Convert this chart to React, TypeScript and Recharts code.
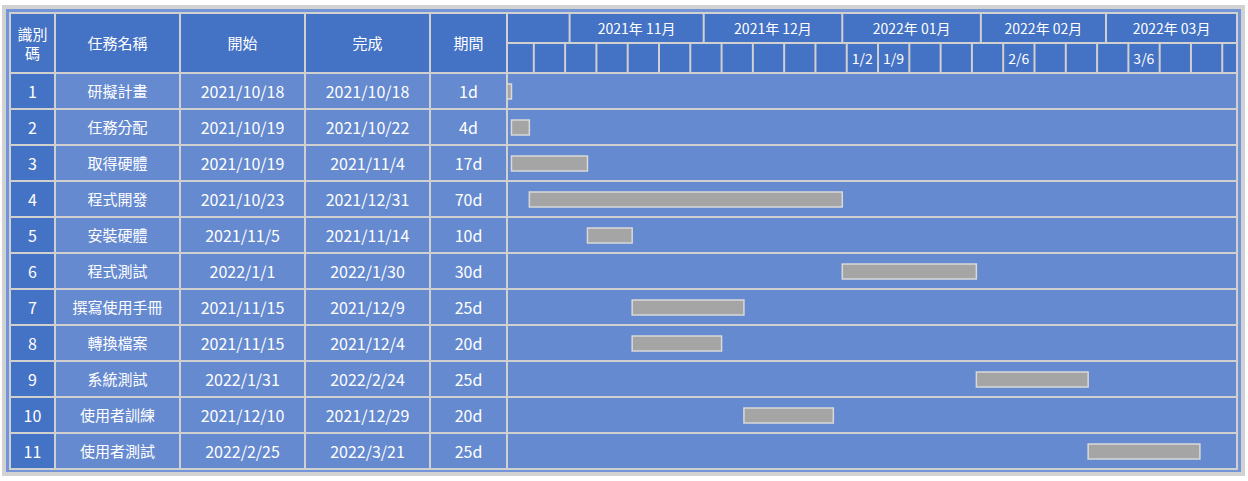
import React from "react";
import { BarChart, Bar, XAxis, YAxis } from "recharts";

const ids = [1, 2, 3, 4, 5, 6, 7, 8, 9, 10, 11];
const taskNames = ["研擬計畫", "任務分配", "取得硬體", "程式開發", "安裝硬體", "程式測試", "撰寫使用手冊", "轉換檔案", "系統測試", "使用者訓練", "使用者測試"];
const startDates = ["2021/10/18", "2021/10/19", "2021/10/19", "2021/10/23", "2021/11/5", "2022/1/1", "2021/11/15", "2021/11/15", "2022/1/31", "2021/12/10", "2022/2/25"];
const endDates = ["2021/10/18", "2021/10/22", "2021/11/4", "2021/12/31", "2021/11/14", "2022/1/30", "2021/12/9", "2021/12/4", "2022/2/24", "2021/12/29", "2022/3/21"];
const durations = ["1d", "4d", "17d", "70d", "10d", "30d", "25d", "20d", "25d", "20d", "25d"];

const headers = ["識別碼", "任務名稱", "開始", "完成", "期間"];

const monthLabels = ["2021年 11月", "2021年 12月", "2022年 01月", "2022年 02月", "2022年 03月"];
const monthStarts = ["2021/11/1", "2021/12/1", "2022/1/1", "2022/2/1", "2022/3/1"];
const weekStarts = [
  "2021/10/24", "2021/10/31", "2021/11/7", "2021/11/14", "2021/11/21", "2021/11/28",
  "2021/12/5", "2021/12/12", "2021/12/19", "2021/12/26", "2022/1/2", "2022/1/9",
  "2022/1/16", "2022/1/23", "2022/1/30", "2022/2/6", "2022/2/13", "2022/2/20",
  "2022/2/27", "2022/3/6", "2022/3/13", "2022/3/20", "2022/3/27",
];
const weekLabels = ["", "", "", "", "", "", "", "", "", "", "1/2", "1/9", "", "", "", "2/6", "", "", "", "3/6", "", "", ""];

const chartStart = "2021/10/18";
const visibleDays = 163.3;

const HEAD_BLUE = "#4472c4";
const BODY_BLUE = "#668acf";
const LINE = "#d0d0d0";
const FONT = '"Noto Sans CJK TC", "Noto Sans", sans-serif';

const dayOf = (s: string) => {
  const [y, m, d] = s.split("/").map(Number);
  const [y0, m0, d0] = chartStart.split("/").map(Number);
  return Math.round((Date.UTC(y, m - 1, d) - Date.UTC(y0, m0 - 1, d0)) / 86400000);
};

const data = ids.map((id, i) => ({
  id,
  range: [dayOf(startDates[i]), dayOf(endDates[i]) + 1],
}));

const monthBounds = monthStarts.map(dayOf);
const monthMids = monthBounds.map((b, i) => (b + (i + 1 < monthBounds.length ? monthBounds[i + 1] : visibleDays)) / 2);
const weekTicks = weekStarts.map(dayOf);

const near = (a: number, b: number) => Math.abs(a - b) < 1e-6;

const MonthTick = (props: any) => {
  const { x, payload } = props;
  const v = payload.value;
  if (monthBounds.some((b) => near(b, v))) {
    return <line x1={x} x2={x} y1={0} y2={30} stroke={LINE} strokeWidth={2} />;
  }
  const li = monthMids.findIndex((m) => near(m, v));
  return (
    <text x={x} y={15} textAnchor="middle" dominantBaseline="central" fill="#fff" fontSize={14} fontFamily={FONT}>
      {monthLabels[li]}
    </text>
  );
};

const WeekTick = (props: any) => {
  const { x, payload } = props;
  const wi = weekTicks.findIndex((w) => near(w, payload.value));
  return (
    <g>
      <line x1={x} x2={x} y1={30} y2={60} stroke={LINE} strokeWidth={2} />
      {weekLabels[wi] ? (
        <text x={x + 5} y={45} dominantBaseline="central" fill="#fff" fontSize={14} fontFamily={FONT}>
          {weekLabels[wi]}
        </text>
      ) : null}
    </g>
  );
};

const colX = [10, 55, 180, 305, 430, 507, 1237];
const HEAD_TOP = 13;
const HEAD_BOTTOM = 73;
const ROW_H = 36;

const cellStyle = (left: number, top: number, width: number, height: number, bg: string, size = 15): React.CSSProperties => ({
  position: "absolute",
  left: left + 1,
  top: top + 1,
  width: width - 2,
  height: height - 2,
  background: bg,
  color: "#fff",
  fontFamily: FONT,
  fontSize: size,
  display: "flex",
  alignItems: "center",
  justifyContent: "center",
  textAlign: "center",
  lineHeight: 1.3,
  boxSizing: "border-box",
  padding: "0 6px",
});

export default function App() {
  const cells: React.ReactNode[] = [];
  headers.forEach((h, c) => {
    cells.push(
      <div key={"h" + c} style={cellStyle(colX[c], HEAD_TOP, colX[c + 1] - colX[c], HEAD_BOTTOM - HEAD_TOP, HEAD_BLUE)}>
        {h}
      </div>
    );
  });
  cells.push(<div key="hm" style={cellStyle(colX[5], HEAD_TOP, colX[6] - colX[5], 30, HEAD_BLUE)} />);
  cells.push(<div key="hw" style={cellStyle(colX[5], HEAD_TOP + 30, colX[6] - colX[5], 30, HEAD_BLUE)} />);
  ids.forEach((id, r) => {
    const top = HEAD_BOTTOM + r * ROW_H;
    const vals = [String(id), taskNames[r], startDates[r], endDates[r], durations[r], ""];
    vals.forEach((v, c) => {
      cells.push(
        <div
          key={r + "-" + c}
          style={cellStyle(colX[c], top, colX[c + 1] - colX[c], ROW_H, c === 0 ? HEAD_BLUE : BODY_BLUE, c === 1 ? 15 : 16)}
        >
          {v}
        </div>
      );
    });
  });

  return (
    <div style={{ position: "absolute", left: 0, top: 0, width: 1248, height: 481, background: "#fff" }}>
      <div style={{ position: "absolute", left: 2, top: 5, width: 1243, height: 471, background: "#d2d2d2" }} />
      <div style={{ position: "absolute", left: 6, top: 9, width: 1235, height: 463, background: "#7395d8" }} />
      <div style={{ position: "absolute", left: 9, top: 12, width: 1229, height: 458, background: LINE }} />
      {cells}
      <div style={{ position: "absolute", left: colX[5], top: HEAD_TOP }}>
        <BarChart
          width={colX[6] - colX[5]}
          height={HEAD_BOTTOM - HEAD_TOP + ids.length * ROW_H}
          data={data}
          layout="vertical"
          margin={{ top: 0, right: 0, bottom: 0, left: 0 }}
        >
          <XAxis
            xAxisId="month"
            type="number"
            orientation="top"
            domain={[0, visibleDays]}
            ticks={[...monthBounds, ...monthMids]}
            interval={0}
            height={30}
            axisLine={false}
            tickLine={false}
            tick={MonthTick}
            allowDataOverflow
          />
          <XAxis
            xAxisId="week"
            type="number"
            orientation="top"
            domain={[0, visibleDays]}
            ticks={weekTicks}
            interval={0}
            height={30}
            axisLine={false}
            tickLine={false}
            tick={WeekTick}
            allowDataOverflow
          />
          <YAxis type="category" dataKey="id" hide />
          <Bar
            xAxisId="week"
            dataKey="range"
            fill="#a5a5a5"
            stroke="#d9d9d9"
            strokeWidth={1.5}
            barSize={15}
            isAnimationActive={false}
          />
        </BarChart>
      </div>
    </div>
  );
}
